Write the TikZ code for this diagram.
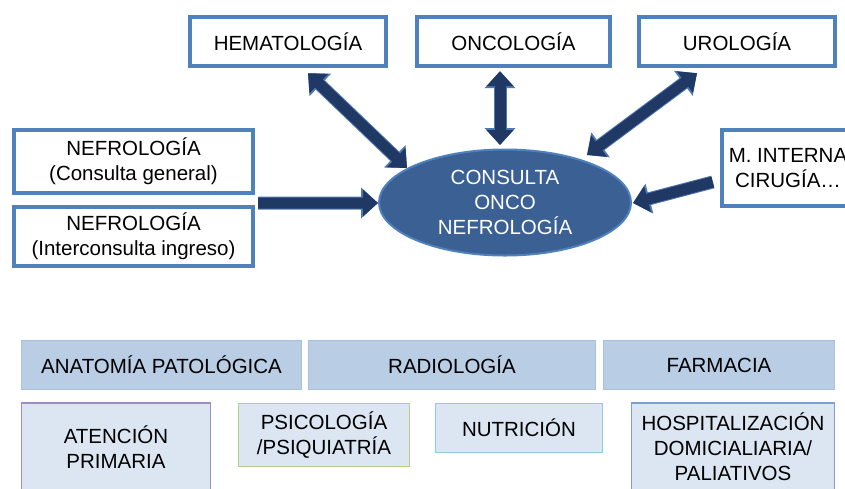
\documentclass[tikz,border=0pt]{standalone}
\usepackage{fontspec}
\setmainfont{Liberation Sans}
\usepackage{xcolor}
\usepackage{tikz}
\usetikzlibrary{arrows.meta,calc,shapes.geometric}

\definecolor{deptblue}{HTML}{4F81BD}
\definecolor{ovalfill}{HTML}{3A6094}
\definecolor{arrownavy}{HTML}{1F3864}
\definecolor{arrowedge}{HTML}{5078B0}
\definecolor{servicefill}{HTML}{B9CDE5}
\definecolor{serviceedge}{HTML}{A7C0DE}
\definecolor{supportfill}{HTML}{DCE6F2}
\definecolor{edgepurple}{HTML}{A08CC0}
\definecolor{edgegreen}{HTML}{B5CF84}
\definecolor{edgecyan}{HTML}{8ECBDB}
\definecolor{edgeblue}{HTML}{7E9FCF}

\tikzset{
  dept/.style={draw=deptblue, line width=2.2pt, fill=white, inner sep=0pt, align=center},
  oval/.style={ellipse, draw=deptblue, line width=1pt, fill=ovalfill, text=white, inner sep=0pt, align=center},
  service/.style={draw=serviceedge, line width=0.6pt, fill=servicefill, inner sep=0pt, align=center},
  support/.style={draw=#1, line width=0.6pt, fill=supportfill, inner sep=0pt, align=center},
  flow/.style={draw=arrownavy, line width=5.5pt, -{Triangle[length=7.5pt,width=13pt]},
    preaction={draw=arrowedge, line width=6.5pt, -{Triangle[length=8.5pt,width=15pt]}}},
  twoway/.style={draw=arrownavy, line width=5.5pt, {Triangle[length=7.5pt,width=13pt]}-{Triangle[length=7.5pt,width=13pt]},
    preaction={draw=arrowedge, line width=6.5pt, {Triangle[length=8.5pt,width=15pt]}-{Triangle[length=8.5pt,width=15pt]}}}
}

\begin{document}
\begin{tikzpicture}[x=0.5pt, y=-0.5pt, font=\fontsize{10.25pt}{12.5pt}\selectfont]
    % Parameters
    \def\px{0.5pt} % one pixel of the reference

    % Frame of the picture
    \useasboundingbox (0,0) rectangle (845,488);
    \clip (0,0) rectangle (845,488);

    % Central consultation
    \node[oval, minimum width=252*\px, minimum height=106*\px] (consulta) at (505,202.5) {CONSULTA\\ONCO\\NEFROLOGÍA};

    % Departments around it
    \node[dept, minimum width=196*\px, minimum height=49*\px] (hemato) at (288,41.5) {HEMATOLOGÍA};
    \node[dept, minimum width=193*\px, minimum height=49*\px] (onco) at (513.5,41.5) {ONCOLOGÍA};
    \node[dept, minimum width=196*\px, minimum height=49*\px] (uro) at (737,41.5) {UROLOGÍA};
    \node[dept, minimum width=239*\px, minimum height=63*\px] (nefcon) at (133.5,161.5) {NEFROLOGÍA\\(Consulta general)};
    \node[dept, minimum width=239*\px, minimum height=59*\px] (nefint) at (133.5,236.5) {NEFROLOGÍA\\(Interconsulta ingreso)};
    \node[dept, minimum width=132*\px, minimum height=76*\px] (minterna) at (788,168) {M. INTERNA\\CIRUGÍA…};

    % Arrows to the consultation
    \draw[twoway] ($(hemato.south)+(20,5)$) -- ($(consulta)+(-98,-34.5)$);
    \draw[twoway] ($(onco.south)+(-13.5,3)$) -- ($(consulta.north)+(-5,-3.5)$);
    \draw[twoway] ($(uro.south)+(-40,5)$) -- ($(consulta)+(82,-47.5)$);
    \draw[flow] ($(minterna.west)+(-7,14)$) -- ($(consulta.east)+(1,0.5)$);
    \draw[flow] ($(nefcon.south east)!0.5!(nefint.north east)+(3,3)$) -- ($(consulta.west)+(0,0.5)$);

    % Central services
    \node[service, minimum width=280*\px, minimum height=49*\px] (anatomia) at (161.5,365) {ANATOMÍA PATOLÓGICA};
    \node[service, minimum width=287*\px, minimum height=49*\px] (radio) at (452,365) {RADIOLOGÍA};
    \node[service, minimum width=231*\px, minimum height=49*\px] (farmacia) at (719,365) {FARMACIA};

    % Support services
    \node[support=edgepurple, minimum width=189*\px, minimum height=88*\px] (primaria) at (116,447) {ATENCIÓN\\PRIMARIA};
    \node[support=edgegreen, minimum width=171*\px, minimum height=63*\px] (psico) at (324,435) {PSICOLOGÍA\\/PSIQUIATRÍA};
    \node[support=edgecyan, minimum width=167*\px, minimum height=49*\px] (nutri) at (519,428) {NUTRICIÓN};
    \node[support=edgeblue, minimum width=203*\px, minimum height=88*\px] (domicilio) at (733,447) {HOSPITALIZACIÓN\\DOMICIALIARIA/\\PALIATIVOS};
\end{tikzpicture}
\end{document}
